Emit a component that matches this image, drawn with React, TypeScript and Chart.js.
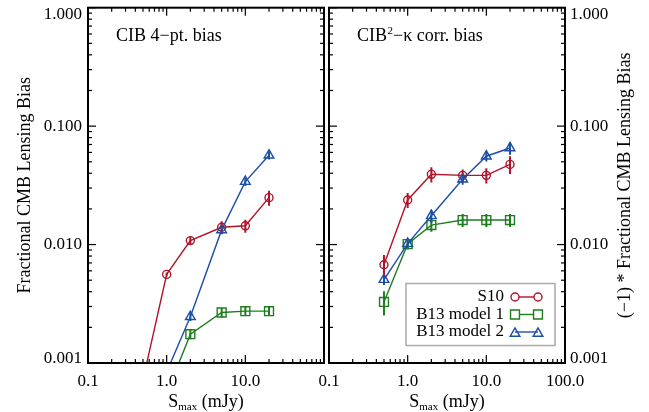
import React, { useEffect, useRef } from "react";
import { Chart, registerables } from "chart.js";

Chart.register(...registerables);

// ---------------- data ----------------
const sMax = [0.5, 1, 2, 5, 10, 20];

// Panel 1: CIB 4-pt. bias
const fourPtS10 = [0.00072, 0.0056, 0.0108, 0.014, 0.0144, 0.0249];
const fourPtS10Err = [0.00003, 0.0002, 0.0009, 0.0017, 0.0018, 0.0036];
const fourPtB13m1 = [null, 0.00055, 0.00175, 0.00267, 0.00274, 0.00274];
const fourPtB13m1Err = [null, 0.00005, 0.00016, 0.00024, 0.00025, 0.00025];
const fourPtB13m2 = [null, 0.00084, 0.00246, 0.0133, 0.034, 0.0568];
const fourPtB13m2Err = [null, 0.00007, 0.0002, 0.0011, 0.0027, 0.0046];

// Panel 2: CIB^2-kappa corr. bias (plotted as -1 * bias)
const corrS10 = [0.00676, 0.0238, 0.0392, 0.0384, 0.0384, 0.0475];
const corrS10Err = [0.0014, 0.0034, 0.0057, 0.0047, 0.0056, 0.0081];
const corrB13m1 = [0.00328, 0.0101, 0.0146, 0.0161, 0.0161, 0.0161];
const corrB13m1Err = [0.00076, 0.001, 0.0018, 0.002, 0.002, 0.002];
const corrB13m2 = [0.00506, 0.0102, 0.0175, 0.0356, 0.0557, 0.0654];
const corrB13m2Err = [0.0005, 0.0008, 0.0022, 0.0036, 0.0053, 0.0081];

const seriesNames = ["S10", "B13 model 1", "B13 model 2"];
const xTickValues = [0.1, 1, 10, 100];
const xTickLabels = ["0.1", "1.0", "10.0", "100.0"];
const yTickValues = [1, 0.1, 0.01, 0.001];
const yTickLabels = ["1.000", "0.100", "0.010", "0.001"];

// ---------------- styles ----------------
const RED = "#b0142a";
const GREEN = "#1e7d1e";
const BLUE = "#1c4fa5";
const SERIF = '"Liberation Serif", "DejaVu Serif", serif';

const W = 649;
const H = 412;

function drawMarker(ctx: CanvasRenderingContext2D, style: string, x: number, y: number, r: number) {
  ctx.beginPath();
  if (style === "circle") {
    ctx.arc(x, y, r, 0, Math.PI * 2);
  } else if (style === "rect") {
    const s = r * Math.SQRT1_2;
    ctx.rect(x - s, y - s, 2 * s, 2 * s);
  } else {
    let rad = 0;
    ctx.moveTo(x + Math.sin(rad) * r, y - Math.cos(rad) * r);
    rad += (2 * Math.PI) / 3;
    ctx.lineTo(x + Math.sin(rad) * r, y - Math.cos(rad) * r);
    rad += (2 * Math.PI) / 3;
    ctx.lineTo(x + Math.sin(rad) * r, y - Math.cos(rad) * r);
    ctx.closePath();
  }
  ctx.stroke();
}

const STYLES = [
  { color: RED, point: "circle", radius: 4 },
  { color: GREEN, point: "rect", radius: 6.3 },
  { color: BLUE, point: "triangle", radius: 5.6 },
];

type PanelCfg = {
  side: "left" | "right";
  label: string;
  values: (number | null)[][];
  errors: (number | null)[][];
  xLabelCount: number;
  yTitle: string;
  legend: boolean;
};

function makeDatasets(cfg: PanelCfg) {
  // index 0 drawn on top -> blue first
  const order = [2, 1, 0];
  return order.map((k) => ({
    label: seriesNames[k],
    data: sMax.map((x, i) => ({ x, y: cfg.values[k][i] })),
    borderColor: STYLES[k].color,
    backgroundColor: "rgba(0,0,0,0)",
    borderWidth: 1.4,
    pointStyle: STYLES[k].point,
    pointRadius: STYLES[k].radius,
    pointBorderWidth: 1.4,
    pointBorderColor: STYLES[k].color,
    pointBackgroundColor: "rgba(0,0,0,0)",
    tension: 0,
    spanGaps: false,
  }));
}

function decorPlugin(cfg: PanelCfg) {
  return {
    id: "panelDecor",
    afterDatasetsDraw(chart: any) {
      const { ctx, chartArea: a } = chart;
      const xs = chart.scales.x;
      const ys = chart.scales.y;
      ctx.save();
      ctx.beginPath();
      ctx.rect(a.left, a.top, a.right - a.left, a.bottom - a.top);
      ctx.clip();
      for (let k = 0; k < 3; k++) {
        ctx.strokeStyle = STYLES[k].color;
        ctx.lineWidth = 2;
        sMax.forEach((xv, i) => {
          const v = cfg.values[k][i];
          const e = cfg.errors[k][i];
          if (v == null || e == null) return;
          const px = xs.getPixelForValue(xv);
          const top = ys.getPixelForValue(v + e);
          const bot = ys.getPixelForValue(Math.max(v - e, 1e-7));
          ctx.beginPath();
          ctx.moveTo(px, top);
          ctx.lineTo(px, bot);
          ctx.stroke();
        });
      }
      ctx.restore();
    },
    afterDraw(chart: any) {
      const { ctx, chartArea: a } = chart;
      const xs = chart.scales.x;
      const ys = chart.scales.y;
      ctx.save();
      // ticks
      ctx.strokeStyle = "#000";
      ctx.lineWidth = 1.2;
      const seg = (x1: number, y1: number, x2: number, y2: number) => {
        ctx.beginPath();
        ctx.moveTo(x1, y1);
        ctx.lineTo(x2, y2);
        ctx.stroke();
      };
      for (let d = -3; d <= 0; d++) {
        for (let m = 1; m <= 9; m++) {
          const v = m * Math.pow(10, d);
          if (v > 1.0001) break;
          const py = ys.getPixelForValue(v);
          const len = m === 1 ? 8 : 4;
          seg(a.left, py, a.left + len, py);
          seg(a.right, py, a.right - len, py);
        }
      }
      for (let d = -1; d <= 2; d++) {
        for (let m = 1; m <= 9; m++) {
          const v = m * Math.pow(10, d);
          if (v > 100.001) break;
          const px = xs.getPixelForValue(v);
          const len = m === 1 ? 8 : 4;
          seg(px, a.bottom, px, a.bottom - len);
          seg(px, a.top, px, a.top + len);
        }
      }
      // frame
      ctx.lineWidth = 2;
      ctx.strokeRect(a.left, a.top, a.right - a.left, a.bottom - a.top);

      // tick labels
      ctx.fillStyle = "#000";
      ctx.font = `17px ${SERIF}`;
      ctx.textBaseline = "middle";
      yTickValues.forEach((v, i) => {
        let py = ys.getPixelForValue(v);
        py = Math.min(Math.max(py, a.top + 7), a.bottom - 4);
        if (cfg.side === "left") {
          ctx.textAlign = "right";
          ctx.fillText(yTickLabels[i], a.left - 6, py);
        } else {
          ctx.textAlign = "left";
          ctx.fillText(yTickLabels[i], a.right + 5, py);
        }
      });
      ctx.textAlign = "center";
      for (let i = 0; i < cfg.xLabelCount; i++) {
        const px = xs.getPixelForValue(xTickValues[i]);
        ctx.fillText(xTickLabels[i], px, a.bottom + 19);
      }

      // x title: S_max (mJy)
      ctx.textBaseline = "alphabetic";
      ctx.textAlign = "left";
      const big = `18px ${SERIF}`;
      const small = `11px ${SERIF}`;
      ctx.font = big;
      const wS = ctx.measureText("S").width;
      const wRest = ctx.measureText(" (mJy)").width;
      ctx.font = small;
      const wSub = ctx.measureText("max").width;
      const cx = (a.left + a.right) / 2;
      let tx = cx - (wS + wSub + wRest) / 2;
      ctx.font = big;
      ctx.fillText("S", tx, 407);
      tx += wS;
      ctx.font = small;
      ctx.fillText("max", tx, 410);
      tx += wSub;
      ctx.font = big;
      ctx.fillText(" (mJy)", tx, 407);

      // y title
      ctx.save();
      const yc = (a.top + a.bottom) / 2;
      const ytx = cfg.side === "left" ? 25 : a.right + 60;
      ctx.translate(ytx, yc);
      ctx.rotate(-Math.PI / 2);
      ctx.textAlign = "center";
      ctx.textBaseline = "middle";
      ctx.font = big;
      ctx.fillText(cfg.yTitle, 0, 0);
      ctx.restore();

      // panel label
      ctx.font = big;
      ctx.textAlign = "left";
      ctx.textBaseline = "alphabetic";
      const lx = a.left + 28;
      const ly = 41;
      if (cfg.side === "left") {
        ctx.fillText(cfg.label, lx, ly);
      } else {
        let x = lx;
        ctx.fillText("CIB", x, ly);
        x += ctx.measureText("CIB").width;
        ctx.font = `11px ${SERIF}`;
        ctx.fillText("2", x + 0.5, ly - 7);
        x += ctx.measureText("2").width + 0.5;
        ctx.font = big;
        ctx.fillText("\u2212\u03ba corr. bias", x, ly);
      }

      // legend
      if (cfg.legend) {
        const bx = a.left + 77;
        const by = 283.5;
        const bw = 149;
        const bh = 62;
        ctx.fillStyle = "#fff";
        ctx.fillRect(bx, by, bw, bh);
        ctx.strokeStyle = "#aaaaaa";
        ctx.lineWidth = 1.5;
        ctx.strokeRect(bx, by, bw, bh);
        const rows = [297, 314.5, 332];
        ctx.font = `17px ${SERIF}`;
        ctx.textAlign = "right";
        ctx.textBaseline = "middle";
        for (let k = 0; k < 3; k++) {
          ctx.fillStyle = "#000";
          ctx.fillText(seriesNames[k], a.left + 175, rows[k]);
          const m1 = a.left + 186;
          const m2 = a.left + 209;
          ctx.strokeStyle = STYLES[k].color;
          ctx.lineWidth = 1.4;
          const r = STYLES[k].radius;
          const off = STYLES[k].point === "circle" ? r : STYLES[k].point === "rect" ? r * Math.SQRT1_2 : 0;
          ctx.beginPath();
          ctx.moveTo(m1 + off, rows[k]);
          ctx.lineTo(m2 - off, rows[k]);
          ctx.stroke();
          const yOff = STYLES[k].point === "triangle" ? 1.5 : 0;
          drawMarker(ctx, STYLES[k].point, m1, rows[k] + yOff, r);
          drawMarker(ctx, STYLES[k].point, m2, rows[k] + yOff, r);
        }
      }
      ctx.restore();
    },
  };
}

function makeChart(canvas: HTMLCanvasElement, cfg: PanelCfg, padding: any) {
  return new Chart(canvas, {
    type: "line",
    data: { datasets: makeDatasets(cfg) as any },
    options: {
      animation: false,
      responsive: false,
      maintainAspectRatio: false,
      layout: { padding },
      scales: {
        x: { type: "logarithmic", min: 0.1, max: 100, display: false },
        y: { type: "logarithmic", min: 0.001, max: 1, display: false },
      },
      plugins: { legend: { display: false }, tooltip: { enabled: false } },
    } as any,
    plugins: [decorPlugin(cfg) as any],
  });
}

export default function App() {
  const leftRef = useRef<HTMLCanvasElement>(null);
  const rightRef = useRef<HTMLCanvasElement>(null);

  useEffect(() => {
    const leftCfg: PanelCfg = {
      side: "left",
      label: "CIB 4\u2212pt. bias",
      values: [fourPtS10, fourPtB13m1, fourPtB13m2],
      errors: [fourPtS10Err, fourPtB13m1Err, fourPtB13m2Err],
      xLabelCount: 3,
      yTitle: "Fractional CMB Lensing Bias",
      legend: false,
    };
    const rightCfg: PanelCfg = {
      side: "right",
      label: "CIB2\u2212\u03ba corr. bias",
      values: [corrS10, corrB13m1, corrB13m2],
      errors: [corrS10Err, corrB13m1Err, corrB13m2Err],
      xLabelCount: 4,
      yTitle: "(\u22121) * Fractional CMB Lensing Bias",
      legend: true,
    };
    const c1 = makeChart(leftRef.current!, leftCfg, { left: 88, right: W - 324, top: 5, bottom: H - 363 });
    const c2 = makeChart(rightRef.current!, rightCfg, { left: 329, right: W - 565, top: 5, bottom: H - 363 });
    return () => {
      c1.destroy();
      c2.destroy();
    };
  }, []);

  return (
    <div style={{ position: "fixed", left: 0, top: 0, width: W, height: H, background: "#fff" }}>
      <canvas ref={leftRef} width={W} height={H} style={{ position: "absolute", left: 0, top: 0, width: W, height: H }} />
      <canvas ref={rightRef} width={W} height={H} style={{ position: "absolute", left: 0, top: 0, width: W, height: H }} />
    </div>
  );
}
